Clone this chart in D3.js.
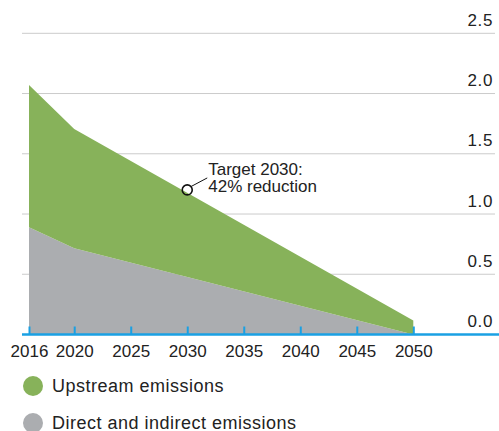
<!DOCTYPE html>
<html>
<head>
<meta charset="utf-8">
<script src="https://cdn.jsdelivr.net/npm/d3@7"></script>
<style>
  body { margin: 0; background: #fff; }
  svg { display: block; font-family: "Liberation Sans", Arial, sans-serif; }
</style>
</head>
<body>
<div id="chart"></div>
<script>
var years = [2016, 2020, 2050]
var direct = [0.89, 0.715, 0.0]
var upstream = [1.18, 0.99, 0.116]
var tickYears = [2016, 2020, 2025, 2030, 2035, 2040, 2045, 2050]
var yTicks = [0, 0.5, 1.0, 1.5, 2.0, 2.5]
var target = { year: 2030, value: 1.2, label: ['Target 2030:', '42% reduction'] }
var legendLabels = ['Upstream emissions', 'Direct and indirect emissions']

var width = 499
var height = 431

var green = '#87b25a'
var grey = '#abadb0'
var blue = '#1aa0e3'

var svg = d3.select('#chart')
  .append('svg')
  .attr('width', width)
  .attr('height', height)

var x = d3.scaleLinear().domain([2016, 2050]).range([29, 413.3])
var y = d3.scaleLinear().domain([0, 2.5]).range([334.5, 33.3])

var data = years.map(function(yr, i) {
  return { year: yr, direct: direct[i], upstream: upstream[i] }
})

var stack = d3.stack().keys(['direct', 'upstream'])
var series = stack(data)
var colors = { direct: grey, upstream: green }

// gridlines + right labels
var yAxis = d3.axisRight(y)
  .tickValues(yTicks)
  .tickSize(0)
  .tickFormat(d3.format('.1f'))

var gy = svg.append('g')
  .attr('transform', 'translate(495,0)')
  .call(yAxis)
gy.select('.domain').remove()
gy.selectAll('.tick text')
  .attr('x', -2)
  .attr('dy', -8)
  .attr('text-anchor', 'end')
  .attr('fill', '#222')
  .style('font-size', '17px')
  .style('letter-spacing', '0.6px')

svg.append('g')
  .selectAll('line')
  .data(yTicks.filter(d => d > 0))
  .enter()
  .append('line')
  .attr('x1', 22)
  .attr('x2', 495)
  .attr('y1', d => y(d))
  .attr('y2', d => y(d))
  .attr('stroke', '#cbcbcb')
  .attr('stroke-width', 1)

// areas
var area = d3.area()
  .x(d => x(d.data.year))
  .y0(d => y(d[0]))
  .y1(d => y(d[1]))

svg.append('g')
  .selectAll('path')
  .data(series)
  .enter()
  .append('path')
  .attr('d', area)
  .attr('fill', d => colors[d.key])

// x axis
svg.append('line')
  .attr('x1', 22)
  .attr('x2', width)
  .attr('y1', y(0))
  .attr('y2', y(0))
  .attr('stroke', blue)
  .attr('stroke-width', 2.5)

var xAxis = d3.axisBottom(x)
  .tickValues(tickYears)
  .tickFormat(d3.format('d'))
  .tickSizeInner(-8)
  .tickSizeOuter(0)

var gx = svg.append('g')
  .attr('transform', 'translate(0,' + y(0) + ')')
  .call(xAxis)
gx.select('.domain').remove()
gx.selectAll('.tick line')
  .attr('stroke', blue)
  .attr('stroke-width', 2)
gx.selectAll('.tick text')
  .attr('y', 22)
  .attr('dy', 0)
  .attr('fill', '#222')
  .style('font-size', '17px')

// target annotation
var tx = x(target.year)
var ty = y(target.value)
svg.append('circle')
  .attr('cx', tx)
  .attr('cy', ty)
  .attr('r', 5)
  .attr('fill', 'none')
  .attr('stroke', '#111')
  .attr('stroke-width', 1.6)
svg.append('line')
  .attr('x1', tx + 4)
  .attr('y1', ty - 3.5)
  .attr('x2', tx + 20)
  .attr('y2', ty - 12)
  .attr('stroke', '#111')
  .attr('stroke-width', 1)
svg.append('text')
  .attr('x', tx + 21)
  .attr('y', ty - 15)
  .attr('fill', '#222')
  .style('font-size', '17px')
  .selectAll('tspan')
  .data(target.label)
  .enter()
  .append('tspan')
  .attr('x', tx + 21)
  .attr('dy', (d, i) => i === 0 ? 0 : 17.5)
  .text(d => d)

// legend
var legend = svg.append('g')
  .selectAll('g')
  .data(legendLabels)
  .enter()
  .append('g')
  .attr('transform', (d, i) => 'translate(33,' + (386 + i * 37) + ')')

legend.append('circle')
  .attr('r', 10)
  .attr('fill', (d, i) => i === 0 ? green : grey)

legend.append('text')
  .attr('x', 19)
  .attr('y', 6)
  .attr('fill', '#222')
  .style('font-size', '18px')
  .style('letter-spacing', '0.5px')
  .text(d => d)
</script>
</body>
</html>
